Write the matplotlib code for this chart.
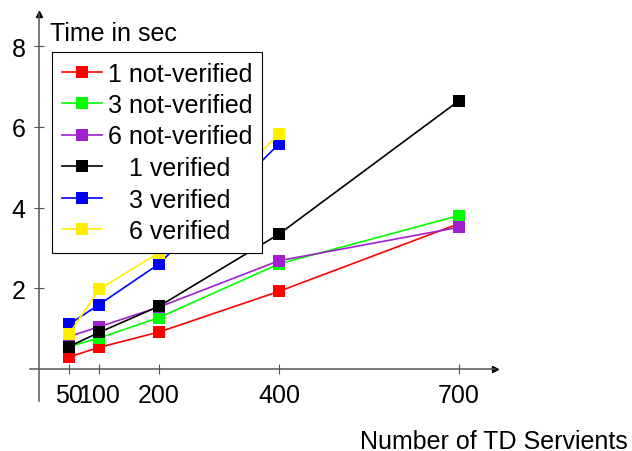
import matplotlib
matplotlib.use("Agg")
import matplotlib.pyplot as plt

plt.rcParams['font.family'] = ['Liberation Sans', 'DejaVu Sans']

x_all = [50, 100, 200, 400, 700]
x_part = [50, 100, 200, 400]

nv1 = [0.29, 0.53, 0.91, 1.92, 3.60]
nv3 = [0.55, 0.76, 1.27, 2.60, 3.80]
nv6 = [0.80, 1.04, 1.53, 2.68, 3.51]
v1 = [0.55, 0.90, 1.55, 3.34, 6.65]
v3 = [1.10, 1.59, 2.60, 5.58]
v6 = [0.86, 1.97, 2.88, 5.82]

labels = ['1 not-verified', '3 not-verified', '6 not-verified',
          '   1 verified', '   3 verified', '   6 verified']
colors = ['#ff0000', '#00ff00', '#a020d0', '#000000', '#0000ff', '#ffee00']

xticks = [50, 100, 200, 400, 700]
yticks = [2, 4, 6, 8]

fs = 18
fig = plt.figure(figsize=(6.32, 4.52), dpi=100)
ax = fig.add_axes([30/632, 50/452, 465/632, 387/452])
ax.set_xlim(-15, 760)
ax.set_ylim(-0.8, 8.8)

series = [(x_all, nv1), (x_all, nv3), (x_all, nv6), (x_all, v1), (x_part, v3), (x_part, v6)]
for (xs, ys), lab, c in zip(series, labels, colors):
    ax.plot(xs, ys, color=c, lw=1.2, marker='s', markersize=8.5,
            markeredgewidth=0, label=lab)

axc = '#555555'
for s in ['top', 'right']:
    ax.spines[s].set_visible(False)
ax.spines['left'].set_position(('data', 0))
ax.spines['bottom'].set_position(('data', 0))
for s in ['left', 'bottom']:
    ax.spines[s].set_color(axc)
    ax.spines[s].set_linewidth(1.1)
# arrows
ax.plot(1, 0, marker='>', color='black', markersize=5, transform=ax.get_yaxis_transform(), clip_on=False)
ax.plot(0, 1, marker='^', color='black', markersize=5, transform=ax.get_xaxis_transform(), clip_on=False)

ax.set_xticks(xticks)
ax.set_yticks(yticks)
ax.set_xticklabels([str(v) for v in xticks])
ax.set_yticklabels([str(v) for v in yticks])
ax.tick_params(axis='both', direction='inout', length=7.2, width=0.8, color=axc,
               labelsize=fs)
ax.tick_params(axis='x', pad=7)
ax.tick_params(axis='y', pad=6)
ax.patch.set_visible(False)

fig.text(50/632, 1 - 41/452, 'Time in sec', fontsize=fs, ha='left', va='baseline')
fig.text(628/632, 1 - 449/452, 'Number of TD Servients', fontsize=fs, ha='right', va='baseline')

leg = ax.legend(loc='upper left', bbox_to_anchor=(52/632, 1 - 53/452),
                bbox_transform=fig.transFigure, borderaxespad=0,
                fontsize=fs, frameon=True, fancybox=False, framealpha=1,
                edgecolor='black', handlelength=1.6, handletextpad=0.25,
                borderpad=0.38, labelspacing=0.30)
leg.get_frame().set_linewidth(0.8)
leg.set_zorder(10)

fig.savefig('out.png', dpi=100)
